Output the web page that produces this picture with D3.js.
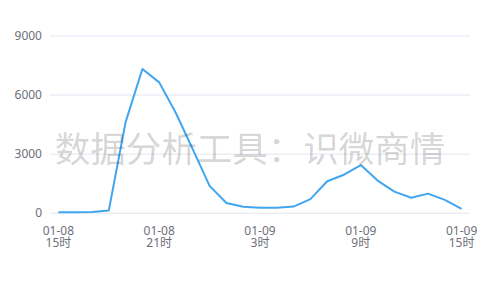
<!DOCTYPE html>
<html>
<head>
<meta charset="utf-8">
<script src="https://cdn.jsdelivr.net/npm/d3@7"></script>
<style>
  body { margin: 0; background: #fff; }
  text { font-family: "Noto Sans", "Noto Sans CJK SC", sans-serif; }
</style>
</head>
<body>
<script>
// hourly points, 01-08 15时 .. 01-09 15时
var hours = ["01-08 15时","01-08 16时","01-08 17时","01-08 18时","01-08 19时","01-08 20时",
    "01-08 21时","01-08 22时","01-08 23时","01-09 0时","01-09 1时","01-09 2时",
    "01-09 3时","01-09 4时","01-09 5时","01-09 6时","01-09 7时","01-09 8时",
    "01-09 9时","01-09 10时","01-09 11时","01-09 12时","01-09 13时","01-09 14时","01-09 15时"];
var counts = [20, 25, 40, 110, 4600, 7300, 6620, 5050, 3220, 1360, 490, 300,
    250, 250, 310, 690, 1600, 1930, 2420, 1630, 1070, 760, 970, 650, 190];
var yTicks = [0, 3000, 6000, 9000];
var watermark = "数据分析工具：识微商情";

var width = 500,
    height = 300;

var svg = d3.select("body")
    .append("svg")
    .attr("width", width)
    .attr("height", height);

var x = d3.scaleBand()
    .domain(hours)
    .range([50, 470]);

var y = d3.scaleLinear()
    .domain([0, 9000])
    .range([212.7, 35.5]);

// grid lines + y labels
var yAxis = svg.append("g")
    .attr("transform", "translate(50,0)")
    .call(d3.axisLeft(y).tickValues(yTicks).tickFormat(d3.format("d")).tickSize(-420).tickPadding(8));
yAxis.select(".domain").remove();
yAxis.selectAll(".tick line").attr("stroke", "#e0e6f1");
yAxis.selectAll(".tick text")
    .attr("fill", "#6e7079")
    .style("font-size", "12px");

// x labels, every 6 hours
var labelIdx = [0, 6, 12, 18, 24];
var xl = svg.append("g");
labelIdx.forEach(function(i) {
    var parts = hours[i].split(" ");
    var cx = x(hours[i]) + x.bandwidth() / 2;
    xl.append("text")
        .attr("x", cx)
        .attr("y", 235)
        .attr("text-anchor", "middle")
        .attr("fill", "#6e7079")
        .style("font-size", "12px")
        .text(parts[0]);
    xl.append("text")
        .attr("x", cx)
        .attr("y", 247)
        .attr("text-anchor", "middle")
        .attr("fill", "#6e7079")
        .style("font-size", "12px")
        .text(parts[1]);
});

var line = d3.line()
    .x(function(d, i) { return x(hours[i]) + x.bandwidth() / 2; })
    .y(function(d) { return y(d); });

svg.append("path")
    .datum(counts)
    .attr("fill", "none")
    .attr("stroke", "#41a6ef")
    .attr("stroke-width", 2)
    .attr("stroke-linejoin", "round")
    .attr("d", line);

svg.append("text")
    .attr("x", 250)
    .attr("y", 162)
    .attr("text-anchor", "middle")
    .attr("fill", "rgba(0,0,0,0.18)")
    .style("font-family", "'Noto Sans CJK SC', sans-serif")
    .style("font-size", "35.5px")
    .text(watermark);
</script>
</body>
</html>
